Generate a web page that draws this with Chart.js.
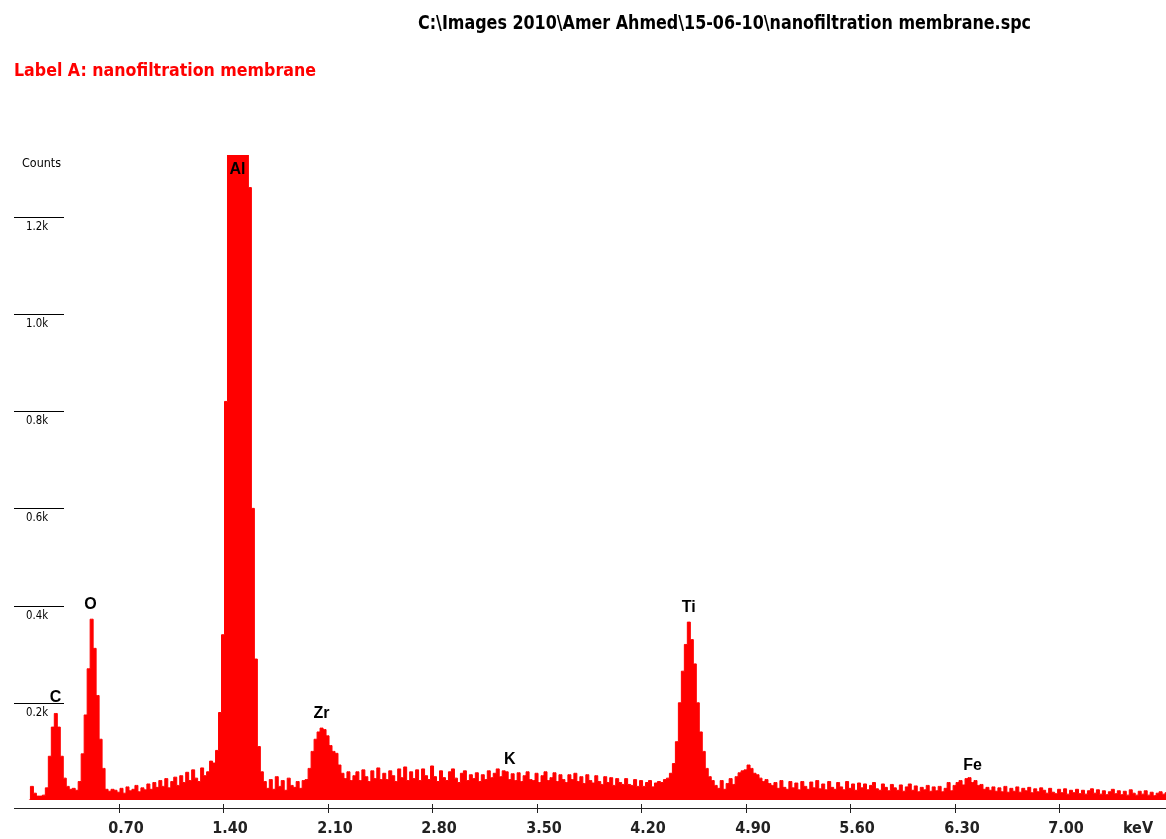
<!DOCTYPE html>
<html>
<head>
<meta charset="utf-8">
<script src="https://cdn.jsdelivr.net/npm/chart.js@4"></script>
<style>
  body { margin: 0; background: #fff; }
  canvas { display: block; }
</style>
</head>
<body>
<canvas id="chart" width="1166" height="839"></canvas>
<script>
"use strict";

// spectrum: one count per 0.02 keV channel, starting at 0.10 keV
const channelStart = 0.10;
const channelWidth = 0.02;
const counts = [
    0, 28, 14, 8, 8, 10, 25, 90, 150, 178,
    150, 90, 45, 28, 22, 24, 20, 38, 95, 175,
    270, 372, 312, 215, 125, 65, 22, 18, 22, 20,
    16, 24, 14, 27, 19, 22, 30, 17, 25, 21,
    33, 22, 36, 26, 40, 28, 44, 25, 38, 47,
    30, 50, 36, 57, 40, 62, 45, 38, 66, 50,
    58, 80, 76, 102, 180, 340, 820, 1450, 1700, 1900,
    1950, 1820, 1560, 1400, 1260, 600, 290, 110, 58, 38,
    24, 42, 22, 48, 28, 40, 20, 45, 30, 26,
    38, 24, 40, 42, 65, 100, 125, 140, 148, 145,
    132, 112, 100, 96, 72, 55, 44, 58, 40, 50,
    58, 40, 62, 48, 38, 60, 44, 66, 42, 55,
    42, 60, 50, 38, 64, 46, 68, 40, 58, 44,
    62, 40, 64, 50, 42, 70, 48, 38, 60, 46,
    40, 58, 64, 45, 36, 55, 60, 40, 52, 44,
    56, 38, 52, 42, 60, 46, 55, 64, 48, 60,
    58, 42, 54, 40, 56, 38, 50, 58, 42, 40,
    55, 36, 50, 58, 40, 46, 56, 38, 52, 42,
    36, 52, 42, 55, 38, 48, 34, 52, 40, 35,
    50, 38, 32, 48, 36, 46, 30, 44, 36, 32,
    44, 32, 30, 42, 28, 40, 28, 36, 40, 27,
    35, 38, 36, 42, 45, 55, 75, 120, 200, 265,
    320, 366, 330, 280, 200, 140, 100, 65, 48, 40,
    30, 24, 40, 22, 34, 44, 32, 48, 56, 60,
    62, 72, 65, 55, 52, 45, 38, 42, 34, 30,
    36, 24, 40, 26, 22, 38, 25, 35, 21, 38,
    28, 22, 37, 25, 40, 23, 33, 21, 38, 26,
    22, 36, 27, 21, 38, 24, 33, 20, 35, 25,
    33, 21, 30, 36, 23, 20, 33, 26, 19, 32,
    25, 20, 31, 18, 27, 33, 20, 29, 17, 26,
    21, 30, 18, 27, 19, 28, 17, 24, 36, 19,
    30, 36, 40, 31, 44, 46, 36, 40, 30, 32,
    22, 26, 20, 27, 18, 25, 17, 28, 16, 24,
    18, 27, 16, 24, 19, 26, 15, 23, 17, 25,
    20, 14, 24, 16, 13, 22, 15, 23, 12, 20,
    15, 22, 13, 20, 12, 19, 23, 14, 21, 12,
    19, 11, 17, 22, 13, 19, 11, 18, 10, 21,
    14, 10, 18, 12, 19, 10, 16, 9, 14, 17,
    12, 15
];

// peak labels
const peakNames = ["C", "O", "Al", "Zr", "K", "Ti", "Fe"];
const peakEnergies = [0.278, 0.512, 1.497, 2.06, 3.32, 4.52, 6.42];
const peakLabelCounts = [210, 403, 1296, 177, 84, 395, 70];

// axes
const xTickValues = [0.70, 1.40, 2.10, 2.80, 3.50, 4.20, 4.90, 5.60, 6.30, 7.00];
const yTickValues = [200, 400, 600, 800, 1000, 1200];
const yTickLabels = ["0.2k", "0.4k", "0.6k", "0.8k", "1.0k", "1.2k"];
const xMin = 0, xMax = 7.716;
const yMin = 0, yMax = 1327;

const titleText = "C:\\Images 2010\\Amer Ahmed\\15-06-10\\nanofiltration membrane.spc";
const labelText = "Label A: nanofiltration membrane";

const narrow = "'Liberation Sans Narrow', 'DejaVu Sans Condensed', 'Arial Narrow', sans-serif";

let points = [];
for (let i = 0; i < counts.length; i++) {
    points.push({ x: channelStart + i * channelWidth, y: counts[i] });
}

// draw left aligned text squeezed to a given width
function fitText(ctx, text, x, y, width) {
    const w = ctx.measureText(text).width;
    ctx.save();
    ctx.translate(x, y);
    ctx.scale(width / w, 1);
    ctx.fillText(text, 0, 0);
    ctx.restore();
}

const decorations = {
    id: "decorations",
    afterDraw(chart) {
        const ctx = chart.ctx;
        const xs = chart.scales.x;
        const ys = chart.scales.y;
        ctx.save();

        // header texts
        ctx.textBaseline = "middle";
        ctx.textAlign = "left";
        ctx.fillStyle = "#000";
        ctx.font = "bold 19px " + narrow;
        fitText(ctx, titleText, 418, 24, 613);
        ctx.fillStyle = "#ff0000";
        ctx.font = "bold 18px " + narrow;
        fitText(ctx, labelText, 14, 71, 302);

        // y axis: short lines with labels under them
        ctx.fillStyle = "#000";
        ctx.font = "13px " + narrow;
        fitText(ctx, "Counts", 22, 164, 39);
        ctx.font = "12px " + narrow;
        for (let i = 0; i < yTickValues.length; i++) {
            const py = Math.round(ys.getPixelForValue(yTickValues[i]));
            ctx.fillRect(14, py, 50, 1);
            fitText(ctx, yTickLabels[i], 26, py + 10, 22);
        }

        // x axis line, ticks and labels
        const base = Math.round(ys.getPixelForValue(0)) + 8;
        ctx.fillStyle = "#222";
        ctx.fillRect(xs.left, base, xs.right - xs.left, 1);
        ctx.textAlign = "center";
        ctx.font = "bold 16px " + narrow;
        for (const v of xTickValues) {
            const px = Math.round(xs.getPixelForValue(v));
            ctx.fillRect(px, base - 4, 1, 9);
            ctx.fillText(v.toFixed(2), px + 7, base + 21);
        }
        ctx.fillText("keV", 1138, base + 21);

        // element labels
        ctx.fillStyle = "#000";
        ctx.font = "bold 16px Arial, 'Liberation Sans', sans-serif";
        for (let i = 0; i < peakNames.length; i++) {
            ctx.fillText(peakNames[i], xs.getPixelForValue(peakEnergies[i]), ys.getPixelForValue(peakLabelCounts[i]));
        }
        ctx.restore();
    }
};

const config = {
    type: "line",
    data: {
        datasets: [{
            label: "Counts",
            data: points,
            stepped: "middle",
            fill: "origin",
            backgroundColor: "#ff0000",
            borderColor: "#ff0000",
            borderWidth: 1,
            pointRadius: 0,
            clip: 0
        }]
    },
    options: {
        responsive: false,
        animation: false,
        layout: { padding: { left: 14, right: 0, top: 155, bottom: 39 } },
        plugins: { legend: { display: false }, tooltip: { enabled: false } },
        scales: {
            x: { type: "linear", min: xMin, max: xMax, display: false },
            y: { type: "linear", min: yMin, max: yMax, display: false }
        }
    },
    plugins: [decorations]
};

const myChart = new Chart(document.getElementById("chart"), config);
</script>
</body>
</html>
